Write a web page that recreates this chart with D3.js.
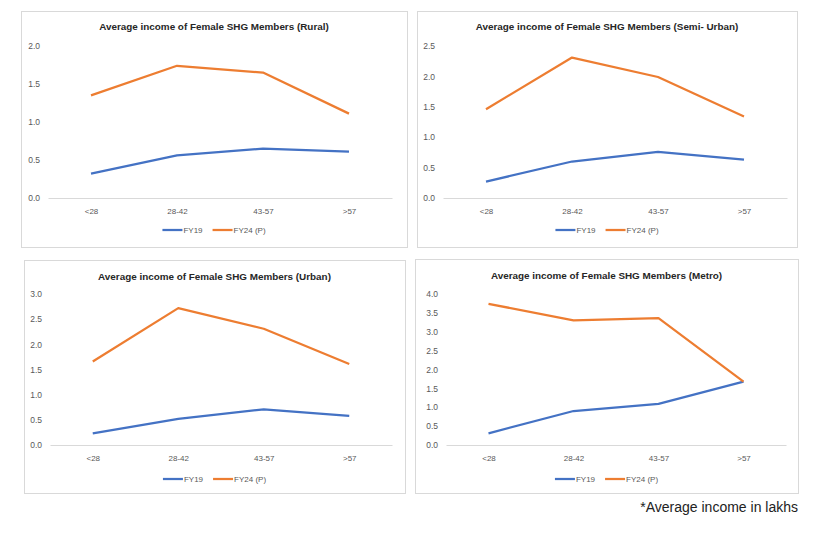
<!DOCTYPE html>
<html>
<head>
<meta charset="utf-8">
<script src="https://cdn.jsdelivr.net/npm/d3@7"></script>
<style>
  body { margin: 0; background: #fff; }
  svg { display: block; }
  .tick text { font-family: "Liberation Sans", Arial, sans-serif; fill: #595959; }
  .title { font-family: "Liberation Sans", Arial, sans-serif; font-weight: bold; fill: #262626; }
  .legendText { font-family: "Liberation Sans", Arial, sans-serif; fill: #595959; font-size: 8px; }
</style>
</head>
<body>
<div id="chart"></div>
<script>
var svgWidth = 819;
var svgHeight = 533;

// Data
var categories = ["<28", "28-42", "43-57", ">57"];
var seriesNames = ["FY19", "FY24 (P)"];
var titles = [
  "Average income of Female SHG Members (Rural)",
  "Average income of Female SHG Members (Semi- Urban)",
  "Average income of Female SHG Members (Urban)",
  "Average income of Female SHG Members (Metro)"
];
var ruralFY19 = [0.32, 0.56, 0.65, 0.61];
var ruralFY24 = [1.35, 1.74, 1.65, 1.11];
var semiUrbanFY19 = [0.27, 0.60, 0.76, 0.63];
var semiUrbanFY24 = [1.46, 2.31, 1.99, 1.34];
var urbanFY19 = [0.23, 0.52, 0.71, 0.58];
var urbanFY24 = [1.66, 2.72, 2.31, 1.61];
var metroFY19 = [0.31, 0.90, 1.09, 1.68];
var metroFY24 = [3.74, 3.30, 3.36, 1.68];
var yMaxes = [2.0, 2.5, 3.0, 4.0];
var footnote = "*Average income in lakhs";

var panelSeries = [
  [ruralFY19, ruralFY24],
  [semiUrbanFY19, semiUrbanFY24],
  [urbanFY19, urbanFY24],
  [metroFY19, metroFY24]
];

// Layout of each panel (box and plot area)
var layout = [
  { box: [21, 11, 386, 236], plot: [48, 392, 46, 198], titleY: 30, catY: 214, legendY: 230 },
  { box: [417, 11, 380, 236], plot: [443, 787, 46, 198], titleY: 30, catY: 214, legendY: 230 },
  { box: [24, 260, 381, 233], plot: [50, 392, 294, 445], titleY: 280, catY: 461, legendY: 479 },
  { box: [415, 259, 383, 234], plot: [446, 786, 294, 445], titleY: 279, catY: 461, legendY: 479 }
];
var colors = ["#4472C4", "#ED7D31"];

var svg = d3.select("#chart")
  .append("svg")
  .attr("width", svgWidth)
  .attr("height", svgHeight);

titles.forEach(function(title, i) {
  var L = layout[i];
  var g = svg.append("g");

  // Chart border
  g.append("rect")
    .attr("x", L.box[0] + 0.5)
    .attr("y", L.box[1] + 0.5)
    .attr("width", L.box[2])
    .attr("height", L.box[3])
    .attr("fill", "#fff")
    .attr("stroke", "#d9d9d9");

  var cx = L.box[0] + L.box[2] / 2;

  g.append("text")
    .attr("class", "title")
    .attr("x", cx)
    .attr("y", L.titleY)
    .attr("text-anchor", "middle")
    .style("font-size", "9.9px")
    .text(title);

  // Scales
  var xScale = d3.scalePoint()
    .domain(categories)
    .range([L.plot[0], L.plot[1]])
    .padding(0.5);

  var yScale = d3.scaleLinear()
    .domain([0, yMaxes[i]])
    .range([L.plot[3], L.plot[2]]);

  // Y axis (labels only)
  var leftAxis = d3.axisLeft(yScale)
    .ticks(Math.round(yMaxes[i] / 0.5))
    .tickFormat(d3.format(".1f"))
    .tickSize(0)
    .tickPadding(8);

  var yAxis = g.append("g")
    .attr("transform", `translate(${L.plot[0]},0)`)
    .call(leftAxis);
  yAxis.select(".domain").remove();
  yAxis.selectAll("text").style("font-size", "8.5px");

  // X axis
  var bottomAxis = d3.axisBottom(xScale).tickSize(0).tickPadding(0);
  var xAxis = g.append("g")
    .attr("transform", `translate(0,${L.plot[3]})`)
    .call(bottomAxis);
  xAxis.select(".domain").attr("stroke", "#d9d9d9");
  xAxis.selectAll("text")
    .attr("y", L.catY - L.plot[3])
    .attr("dy", 0)
    .style("font-size", "8px");

  // Lines
  var line = d3.line()
    .x(function(d, j) { return xScale(categories[j]); })
    .y(function(d) { return yScale(d); });

  panelSeries[i].forEach(function(values, s) {
    g.append("path")
      .datum(values)
      .attr("d", line)
      .attr("fill", "none")
      .attr("stroke", colors[s])
      .attr("stroke-width", 2.25)
      .attr("stroke-linejoin", "round");
  });

  // Legend
  var legend = g.append("g");
  var offset = 0;
  seriesNames.forEach(function(name, s) {
    var item = legend.append("g").attr("transform", `translate(${offset},0)`);
    item.append("line")
      .attr("x1", 0).attr("x2", 20)
      .attr("y1", 0).attr("y2", 0)
      .attr("stroke", colors[s])
      .attr("stroke-width", 2.25);
    var t = item.append("text")
      .attr("class", "legendText")
      .attr("x", 21)
      .attr("y", 3)
      .text(name);
    offset += 21 + t.node().getComputedTextLength() + 10;
  });
  var legendWidth = offset - 10;
  legend.attr("transform", `translate(${cx - legendWidth / 2},${L.legendY})`);
});

svg.append("text")
  .attr("x", 798)
  .attr("y", 512)
  .attr("text-anchor", "end")
  .style("font-family", "'Liberation Sans', Arial, sans-serif")
  .style("font-size", "14px")
  .style("fill", "#222")
  .text(footnote);
</script>
</body>
</html>
